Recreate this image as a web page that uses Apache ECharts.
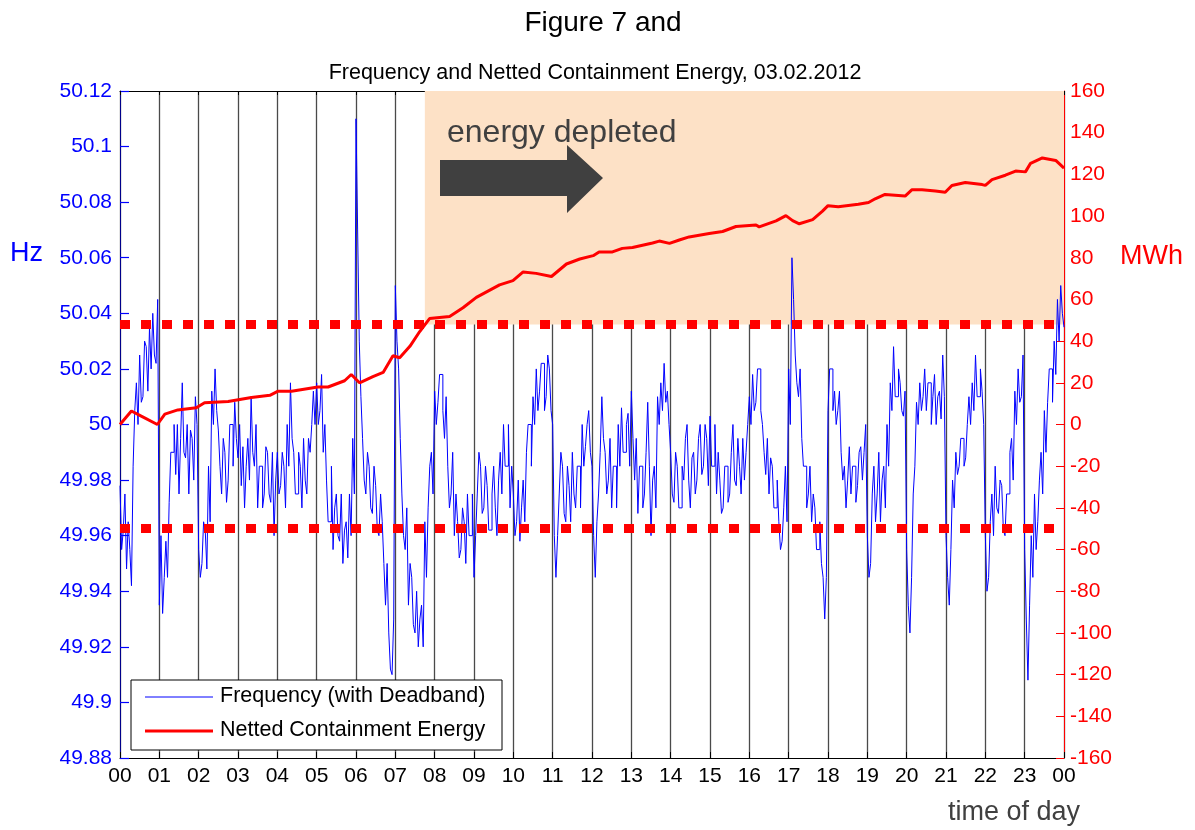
<!DOCTYPE html>
<html>
<head>
<meta charset="utf-8">
<title>Frequency and Netted Containment Energy</title>
<script src="https://cdn.jsdelivr.net/npm/echarts@6/dist/echarts.min.js"></script>
<style>
  html, body { margin: 0; padding: 0; background: #fff; }
  #chart { width: 1195px; height: 830px; }
</style>
</head>
<body>
<div id="chart"></div>
<script>
// tick labels of the time axis (hours)
var hourLabels = ['00','01','02','03','04','05','06','07','08','09','10','11',
  '12','13','14','15','16','17','18','19','20','21','22','23','00'];

// frequency with deadband, Hz, one reading at the start of every 5 minutes (12 per hour)
var freq = [
  49.978, 49.962, 49.948, 49.955, 49.985, 50.015, 50.025, 50.010, 50.028, 50.035, 50.040, 50.022, // 00
  49.935, 49.932, 49.958, 49.972, 49.990, 49.982, 49.975, 50.015, 49.988, 49.975, 49.995, 50.010, // 01
  49.955, 49.950, 49.962, 49.985, 50.012, 50.020, 49.998, 49.975, 49.990, 49.980, 50.000, 50.008, // 02
  49.988, 49.978, 49.970, 49.995, 50.010, 49.985, 49.970, 49.985, 49.975, 49.990, 49.972, 49.960, // 03
  49.990, 49.978, 49.985, 50.000, 50.015, 49.990, 49.975, 49.985, 49.995, 49.975, 49.990, 50.012, // 04
  50.015, 50.005, 49.990, 49.980, 49.965, 49.955, 49.975, 49.958, 49.950, 49.965, 49.975, 49.995, // 05
  50.110, 50.030, 49.995, 49.975, 49.985, 49.968, 49.978, 49.960, 49.965, 49.935, 49.925, 49.910, // 06
  50.050, 50.020, 49.975, 49.955, 49.935, 49.945, 49.925, 49.920, 49.935, 49.965, 49.970, 49.990, // 07
  50.012, 50.008, 50.018, 49.995, 49.985, 49.975, 49.960, 49.965, 49.955, 49.965, 49.975, 49.960, // 08
  49.945, 49.975, 49.985, 49.970, 49.978, 49.962, 49.985, 49.960, 49.990, 50.000, 49.985, 49.970, // 09
  49.975, 49.965, 49.958, 49.980, 49.990, 50.000, 50.010, 50.020, 50.012, 50.022, 50.010, 50.020, // 10
  50.000, 49.945, 49.975, 49.985, 49.965, 49.978, 49.990, 49.970, 49.985, 50.000, 49.992, 50.005, // 11
  49.985, 49.945, 49.975, 50.010, 49.990, 49.980, 49.970, 49.985, 50.000, 50.006, 49.990, 50.004, // 12
  50.012, 49.980, 49.968, 49.985, 49.975, 50.008, 49.960, 49.985, 50.010, 50.015, 50.022, 50.012, // 13
  49.990, 49.972, 49.985, 49.970, 49.980, 50.000, 49.970, 49.990, 49.980, 50.000, 49.985, 49.995, // 14
  50.003, 49.985, 49.975, 49.980, 49.970, 49.985, 49.975, 50.000, 49.978, 49.985, 49.995, 49.990, // 15
  50.010, 50.018, 50.008, 50.020, 50.000, 49.982, 49.975, 49.985, 49.970, 49.965, 49.958, 49.985, // 16
  50.020, 50.060, 50.025, 50.010, 49.995, 49.985, 49.975, 49.965, 49.970, 49.955, 49.950, 49.930, // 17
  50.005, 50.020, 50.012, 50.005, 49.990, 49.985, 49.980, 49.975, 49.985, 49.978, 49.992, 49.990, // 18
  49.960, 49.950, 49.985, 49.975, 49.965, 49.985, 50.000, 50.015, 50.028, 50.010, 50.015, 50.003, // 19
  49.955, 49.925, 49.975, 50.008, 50.015, 50.010, 50.005, 50.015, 50.010, 50.000, 50.012, 50.025, // 20
  49.960, 49.935, 49.980, 49.990, 49.985, 49.995, 49.988, 50.010, 50.015, 50.025, 50.010, 50.012, // 21
  49.960, 49.945, 49.975, 49.985, 49.968, 49.978, 49.960, 49.975, 49.995, 50.012, 50.020, 50.010, // 22
  49.955, 49.908, 49.960, 49.975, 49.965, 49.990, 50.005, 50.008, 50.020, 50.030, 50.045, 50.050, // 23
  50.035
];

// second reading inside each 5 minute slot (2.5 minutes later), Hz
var freqMid = [
  49.955, 49.975, 49.965, 49.942, 50.005, 50.000, 50.008, 50.030, 50.012, 50.020, 50.025, 50.045, // 00
  49.960, 49.945, 49.945, 49.990, 50.000, 50.000, 49.995, 49.990, 50.000, 49.998, 49.980, 50.000, // 01
  49.945, 49.965, 49.948, 49.965, 50.000, 50.005, 49.985, 49.995, 49.972, 50.000, 49.985, 49.995, // 02
  50.000, 49.992, 49.985, 49.980, 49.990, 50.000, 49.985, 49.970, 49.992, 49.975, 49.990, 49.980, // 03
  49.975, 49.990, 49.970, 49.985, 49.995, 49.975, 49.990, 49.970, 49.980, 49.995, 50.000, 50.000, // 04
  50.000, 50.018, 50.000, 49.965, 49.985, 49.970, 49.960, 49.975, 49.962, 49.952, 49.960, 49.975, // 05
  50.070, 50.010, 49.980, 49.990, 49.970, 49.985, 49.962, 49.975, 49.950, 49.950, 49.912, 49.930, // 06
  50.030, 49.995, 49.960, 49.970, 49.950, 49.928, 49.940, 49.930, 49.920, 49.945, 49.985, 49.975, // 07
  50.000, 50.018, 50.005, 50.010, 49.970, 49.990, 49.975, 49.952, 49.970, 49.950, 49.960, 49.975, // 08
  49.960, 49.990, 49.968, 49.985, 49.962, 49.975, 49.970, 49.980, 49.975, 49.985, 50.000, 49.985, // 09
  49.960, 49.980, 49.970, 49.965, 50.000, 49.985, 50.000, 50.005, 50.022, 50.005, 50.025, 50.005, // 10
  49.960, 49.960, 49.990, 49.968, 49.985, 49.965, 49.975, 49.985, 49.970, 49.985, 50.000, 49.990, // 11
  49.960, 49.965, 49.990, 49.995, 49.975, 49.995, 49.985, 49.970, 49.985, 49.990, 50.000, 49.985, // 12
  49.995, 49.995, 49.985, 49.970, 49.990, 49.985, 49.980, 49.970, 50.000, 50.005, 50.008, 50.000, // 13
  49.975, 49.990, 49.970, 49.985, 49.995, 49.980, 49.988, 49.975, 49.995, 49.982, 50.000, 49.978, // 14
  49.985, 50.000, 49.990, 49.968, 49.985, 49.972, 49.990, 49.980, 49.995, 49.975, 49.980, 50.000, // 15
  50.000, 50.005, 50.020, 50.005, 49.990, 49.995, 49.988, 49.970, 49.980, 49.955, 49.970, 49.965, // 16
  50.000, 50.045, 50.015, 50.020, 49.985, 49.970, 49.985, 49.975, 49.955, 49.965, 49.945, 49.945, // 17
  50.020, 50.005, 50.000, 50.012, 49.980, 49.970, 49.992, 49.985, 49.972, 49.990, 49.980, 50.000, // 18
  49.945, 49.975, 49.965, 49.990, 49.980, 49.970, 49.985, 50.005, 50.010, 50.020, 50.005, 50.012, // 19
  49.935, 49.945, 49.985, 50.000, 50.005, 50.020, 50.015, 50.000, 50.018, 50.010, 50.002, 50.010, // 20
  49.945, 49.955, 49.970, 49.982, 49.995, 49.985, 50.000, 50.000, 50.005, 50.010, 50.020, 50.000, // 21
  49.940, 49.965, 49.960, 49.970, 49.980, 49.962, 49.975, 49.990, 49.980, 50.000, 50.008, 50.025, // 22
  49.930, 49.935, 49.945, 49.955, 49.980, 49.975, 49.990, 50.020, 50.008, 50.018, 50.030, 50.040  // 23
];

// netted containment energy, MWh, read at these times of day (hours)
var energyTime = [0, 0.29, 0.54, 0.95, 1.14, 1.47, 1.94, 2.15, 2.75, 3.34,
  3.81, 4.02, 4.36, 5.03, 5.29, 5.71, 5.88, 6.09, 6.43, 6.69,
  6.94, 7.11, 7.37, 7.62, 7.87, 8.38, 8.72, 9.06, 9.65, 9.99,
  10.25, 10.58, 10.97, 11.35, 11.69, 12.03, 12.18, 12.52, 12.77, 13.03,
  13.54, 13.71, 13.97, 14.22, 14.47, 14.98, 15.32, 15.66, 16.17, 16.25,
  16.68, 16.93, 17.10, 17.27, 17.61, 17.86, 18.00, 18.26, 18.77, 19.03,
  19.2, 19.45, 19.96, 20.13, 20.39, 20.73, 20.98, 21.15, 21.49, 21.92,
  22.0, 22.17, 22.51, 22.77, 23.02, 23.15, 23.45, 23.79, 24.0];
var energyMWh = [0, 6.5, 4, 0, 5, 7, 8, 10.4, 11, 13,
  14, 16, 16, 18, 18, 21, 24, 20, 23, 25,
  33, 32, 37.5, 44.6, 50.8, 51.8, 56, 61, 67, 69,
  73.2, 72.5, 71, 77, 79.4, 81, 82.8, 82.8, 84.5, 84.9,
  87.1, 88, 86.9, 88.5, 90, 91.6, 92.6, 95, 95.7, 94.8,
  97.7, 100.2, 97.8, 96.3, 98.3, 102.4, 105, 104.5, 105.7, 106.5,
  108.3, 110.4, 109.6, 112.6, 112.6, 112, 111.4, 114.7, 116.1, 115.1,
  114.7, 117.5, 119.6, 121.6, 121.2, 125.3, 127.9, 126.7, 123];

// limits (MWh) and the time from which the energy is depleted
var limitsMWh = [48, -50];
var depletedFrom = 7.75;

var FONT = 'Liberation Sans, Arial, sans-serif';
var chart = echarts.init(document.getElementById('chart'));

// interleave the two readings of each 5 minute slot
var freqData = [];
freqMid.forEach(function (v, i) {
  freqData.push([i / 12, freq[i]]);
  freqData.push([i / 12 + 1 / 24, v]);
});
freqData.push([24, freq[freq.length - 1]]);
var energyData = energyTime.map(function (t, i) { return [t, energyMWh[i]]; });

chart.setOption({
  animation: false,
  textStyle: { fontFamily: FONT },
  title: [
    { text: 'Figure 7 and', left: 598, top: 4, textAlign: 'center',
      textStyle: { fontSize: 28, fontWeight: 'normal', color: '#000', fontFamily: FONT } },
    { text: 'Frequency and Netted Containment Energy, 03.02.2012', left: 590, top: 57, textAlign: 'center',
      textStyle: { fontSize: 21.5, fontWeight: 'normal', color: '#000', fontFamily: FONT } }
  ],
  grid: { left: 120, right: 131, top: 91, bottom: 72 },
  xAxis: [
    {
      type: 'value', min: 0, max: 24, interval: 1, position: 'bottom',
      axisLine: { onZero: false, lineStyle: { color: '#000', width: 1 } },
      axisTick: { inside: true, length: 6, lineStyle: { color: '#000' } },
      axisLabel: { margin: 8, fontSize: 21, color: '#000', fontFamily: FONT,
        formatter: function (v) { return hourLabels[Math.round(v)]; } },
      splitLine: { show: true, lineStyle: { color: '#4a4a4a', width: 1.3 } }
    },
    {
      type: 'value', min: 0, max: 24, interval: 1, position: 'top',
      axisLine: { show: true, onZero: false, lineStyle: { color: '#000', width: 1 } },
      axisTick: { inside: true, length: 4, lineStyle: { color: '#000' } },
      axisLabel: { show: false }, splitLine: { show: false }
    }
  ],
  yAxis: [
    {
      type: 'value', min: 49.88, max: 50.12, interval: 0.02, position: 'left',
      axisLine: { show: true, onZero: false, lineStyle: { color: '#00008b', width: 1 } },
      axisTick: { show: true, inside: true, length: 9, lineStyle: { color: '#0000ff', width: 1.2 } },
      axisLabel: { margin: 8, fontSize: 21, color: '#0000ff', fontFamily: FONT,
        formatter: function (v) { return String(parseFloat(v.toFixed(2))); } },
      splitLine: { show: false }
    },
    {
      type: 'value', min: -160, max: 160, interval: 20, position: 'right',
      axisLine: { show: true, onZero: false, lineStyle: { color: '#ff0000', width: 1 } },
      axisTick: { show: true, inside: true, length: 8, lineStyle: { color: '#ff0000' } },
      axisLabel: { margin: 6, fontSize: 21, color: '#ff0000', fontFamily: FONT },
      splitLine: { show: false }
    }
  ],
  series: [
    {
      // shaded "energy depleted" area, below the grid lines
      type: 'line', yAxisIndex: 1, data: [], z: -1, silent: true,
      markArea: {
        silent: true,
        itemStyle: { color: '#fde1c6' },
        data: [[{ xAxis: depletedFrom, yAxis: limitsMWh[0] }, { xAxis: 24, yAxis: 160 }]]
      }
    },
    {
      name: 'Frequency (with Deadband)',
      type: 'line', step: 'end', data: freqData, yAxisIndex: 0,
      showSymbol: false, symbol: 'none',
      lineStyle: { color: '#0000ff', width: 1 }, z: 3
    },
    {
      name: 'Netted Containment Energy',
      type: 'line', data: energyData, yAxisIndex: 1,
      showSymbol: false, symbol: 'none',
      lineStyle: { color: '#ff0000', width: 3 }, z: 4,
      markLine: {
        silent: true, symbol: 'none', label: { show: false },
        lineStyle: { color: '#ff0000', width: 9, type: [10, 11], opacity: 1 },
        data: limitsMWh.map(function (v) { return { yAxis: v }; })
      }
    }
  ],
  graphic: [
    { type: 'text', left: 10, top: 240, style: { text: 'Hz', fontSize: 27, fill: '#0000ff', fontFamily: FONT } },
    { type: 'text', left: 1120, top: 243, style: { text: 'MWh', fontSize: 27, fill: '#ff0000', fontFamily: FONT } },
    { type: 'text', left: 948, top: 799, style: { text: 'time of day', fontSize: 27, fill: '#404040', fontFamily: FONT } },
    { type: 'text', left: 447, top: 117, z: 10, style: { text: 'energy depleted', fontSize: 32, fill: '#404040', fontFamily: FONT } },
    { type: 'polygon', z: 11, shape: { points: [[440, 160], [567, 160], [567, 145], [603, 178], [567, 213], [567, 196], [440, 196]] },
      style: { fill: '#404040' } },
    // legend box
    { type: 'rect', z: 20, shape: { x: 131, y: 680, width: 371, height: 70 },
      style: { fill: '#fff', stroke: '#000', lineWidth: 1 } },
    { type: 'line', z: 21, shape: { x1: 145, y1: 697, x2: 213, y2: 697 }, style: { stroke: '#0000ff', lineWidth: 1 } },
    { type: 'line', z: 21, shape: { x1: 145, y1: 731, x2: 213, y2: 731 }, style: { stroke: '#ff0000', lineWidth: 3 } },
    { type: 'text', z: 21, left: 220, top: 685, style: { text: 'Frequency (with Deadband)', fontSize: 21.5, fill: '#000', fontFamily: FONT } },
    { type: 'text', z: 21, left: 220, top: 719, style: { text: 'Netted Containment Energy', fontSize: 21.5, fill: '#000', fontFamily: FONT } }
  ]
});
</script>
</body>
</html>
